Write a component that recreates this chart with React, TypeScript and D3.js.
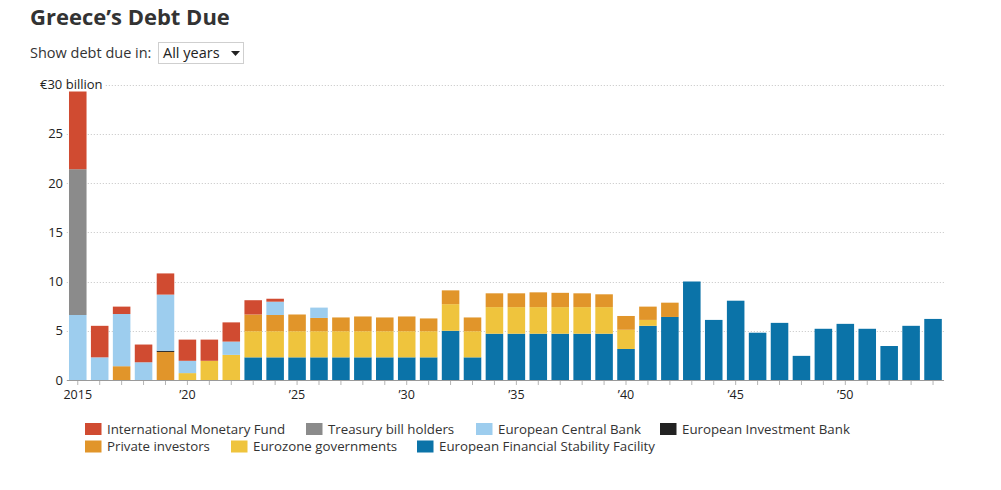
import React from "react";
import * as d3 from "d3";

const years: number[] = d3.range(2015, 2055);

const efsf = [0, 0, 0, 0, 0, 0, 0, 0, 2.3, 2.3, 2.3, 2.3, 2.3, 2.3, 2.3, 2.3, 2.3, 5.0, 2.3, 4.7, 4.7, 4.7, 4.7, 4.7, 4.7, 3.15, 5.5, 6.4, 10.0, 6.1, 8.05, 4.8, 5.8, 2.45, 5.2, 5.7, 5.2, 3.45, 5.5, 6.2];
const eurozone = [0, 0, 0, 0, 0, 0.7, 1.95, 2.55, 2.65, 2.65, 2.65, 2.65, 2.65, 2.65, 2.65, 2.65, 2.65, 2.7, 2.65, 2.7, 2.7, 2.7, 2.7, 2.7, 2.7, 1.95, 0.6, 0, 0, 0, 0, 0, 0, 0, 0, 0, 0, 0, 0, 0];
const privateInv = [0, 0, 1.4, 0, 2.85, 0, 0, 0, 1.7, 1.65, 1.7, 1.35, 1.4, 1.5, 1.4, 1.5, 1.3, 1.4, 1.4, 1.4, 1.4, 1.5, 1.45, 1.4, 1.3, 1.4, 1.35, 1.45, 0, 0, 0, 0, 0, 0, 0, 0, 0, 0, 0, 0];
const eib = [0, 0, 0, 0, 0.12, 0, 0, 0, 0, 0, 0, 0, 0, 0, 0, 0, 0, 0, 0, 0, 0, 0, 0, 0, 0, 0, 0, 0, 0, 0, 0, 0, 0, 0, 0, 0, 0, 0, 0, 0];
const ecb = [6.6, 2.3, 5.3, 1.8, 5.7, 1.25, 0, 1.35, 0, 1.35, 0, 1.05, 0, 0, 0, 0, 0, 0, 0, 0, 0, 0, 0, 0, 0, 0, 0, 0, 0, 0, 0, 0, 0, 0, 0, 0, 0, 0, 0, 0];
const treasury = [14.8, 0, 0, 0, 0, 0, 0, 0, 0, 0, 0, 0, 0, 0, 0, 0, 0, 0, 0, 0, 0, 0, 0, 0, 0, 0, 0, 0, 0, 0, 0, 0, 0, 0, 0, 0, 0, 0, 0, 0];
const imf = [8.0, 3.2, 0.75, 1.8, 2.15, 2.15, 2.15, 1.95, 1.45, 0.3, 0, 0, 0, 0, 0, 0, 0, 0, 0, 0, 0, 0, 0, 0, 0, 0, 0, 0, 0, 0, 0, 0, 0, 0, 0, 0, 0, 0, 0, 0];

const seriesKeys = ["efsf", "eurozone", "private", "eib", "ecb", "treasury", "imf"];
const seriesNames: Record<string, string> = {
  imf: "International Monetary Fund",
  treasury: "Treasury bill holders",
  ecb: "European Central Bank",
  eib: "European Investment Bank",
  private: "Private investors",
  eurozone: "Eurozone governments",
  efsf: "European Financial Stability Facility",
};
const seriesColors: Record<string, string> = {
  imf: "#d04b31",
  treasury: "#8b8b8b",
  ecb: "#9dcdee",
  eib: "#222222",
  private: "#e1952a",
  eurozone: "#efc43d",
  efsf: "#0b73a8",
};
const legendRow1 = ["imf", "treasury", "ecb", "eib"];
const legendRow2 = ["private", "eurozone", "efsf"];
const yTicks = [0, 5, 10, 15, 20, 25, 30];
const xLabelYears = [2015, 2020, 2025, 2030, 2035, 2040, 2045, 2050];

const FONT = "'Open Sans', 'Noto Sans', sans-serif";

export default function App() {
  const W = 1001;
  const H = 490;
  const rows = years.map((y, i) => ({
    year: y,
    efsf: efsf[i],
    eurozone: eurozone[i],
    private: privateInv[i],
    eib: eib[i],
    ecb: ecb[i],
    treasury: treasury[i],
    imf: imf[i],
  }));
  const stacked = d3.stack<any>().keys(seriesKeys)(rows);

  const x = d3
    .scaleBand<number>()
    .domain(years)
    .range([66.8, 944])
    .paddingInner(0.2)
    .paddingOuter(0.1);
  const y = d3.scaleLinear().domain([0, 30]).range([380, 84.5]);

  const fmtYear = (yr: number) => (yr === 2015 ? "2015" : "\u2019" + String(yr).slice(2));

  const legendX1 = [85, 306, 476, 660];
  const legendX2 = [85, 231, 417];

  return (
    <svg width={W} height={H} style={{ position: "absolute", left: 0, top: 0 }} fontFamily={FONT}>
      <rect width={W} height={H} fill="#fff" />
      <text x={30} y={25} fontSize={22} fontWeight={700} fill="#333">
        Greece’s Debt Due
      </text>
      <text x={30} y={58} fontSize={14.5} fill="#333">
        Show debt due in:
      </text>
      <rect x={158.5} y={42.5} width={85} height={21} fill="#fff" stroke="#cfcfcf" />
      <text x={163} y={58} fontSize={14.5} fill="#222">
        All years
      </text>
      <path d="M231,51 L240,51 L235.5,56 Z" fill="#222" />

      {/* gridlines */}
      {yTicks.filter((t) => t > 0).map((t) => (
        <line
          key={"g" + t}
          x1={66.8}
          x2={944}
          y1={Math.round(y(t)) + 0.5}
          y2={Math.round(y(t)) + 0.5}
          stroke="#c4c4c4"
          strokeDasharray="1 2"
        />
      ))}

      {/* bars */}
      {stacked.map((s) => (
        <g key={s.key} fill={seriesColors[s.key]}>
          {s.map((d, i) =>
            d[1] - d[0] > 0 ? (
              <rect
                key={i}
                x={x(years[i])}
                y={y(d[1])}
                width={x.bandwidth()}
                height={y(d[0]) - y(d[1])}
              />
            ) : null
          )}
        </g>
      ))}

      {/* y labels */}
      {yTicks.map((t) =>
        t === 30 ? (
          <g key={"y" + t}>
            <rect x={38} y={y(t) - 8} width={66} height={15} fill="#fff" />
            <text x={40} y={y(t)} dy="0.35em" fontSize={13} fill="#222">
              €30 billion
            </text>
          </g>
        ) : (
          <text key={"y" + t} x={63} y={y(t)} dy="0.35em" fontSize={13} fill="#222" textAnchor="end">
            {t}
          </text>
        )
      )}

      {/* x axis */}
      <line x1={66.8} x2={944} y1={380.5} y2={380.5} stroke="#9a9a9a" />
      {years.map((yr) => (
        <line
          key={"t" + yr}
          x1={x(yr)! + x.bandwidth() / 2}
          x2={x(yr)! + x.bandwidth() / 2}
          y1={381}
          y2={385}
          stroke="#b5b5b5"
        />
      ))}
      {xLabelYears.map((yr) => (
        <text
          key={"xl" + yr}
          x={x(yr)! + x.bandwidth() / 2}
          y={395}
          dy="0.35em"
          fontSize={12.5}
          fill="#222"
          textAnchor="middle"
        >
          {fmtYear(yr)}
        </text>
      ))}

      {/* legend */}
      {legendRow1.map((k, i) => (
        <g key={"l1" + k}>
          <rect x={legendX1[i]} y={423} width={16.5} height={12} fill={seriesColors[k]} />
          <text x={legendX1[i] + 22} y={434} fontSize={13.3} fill="#333">
            {seriesNames[k]}
          </text>
        </g>
      ))}
      {legendRow2.map((k, i) => (
        <g key={"l2" + k}>
          <rect x={legendX2[i]} y={440.5} width={16.5} height={12} fill={seriesColors[k]} />
          <text x={legendX2[i] + 22} y={451} fontSize={13.3} fill="#333">
            {seriesNames[k]}
          </text>
        </g>
      ))}
    </svg>
  );
}
